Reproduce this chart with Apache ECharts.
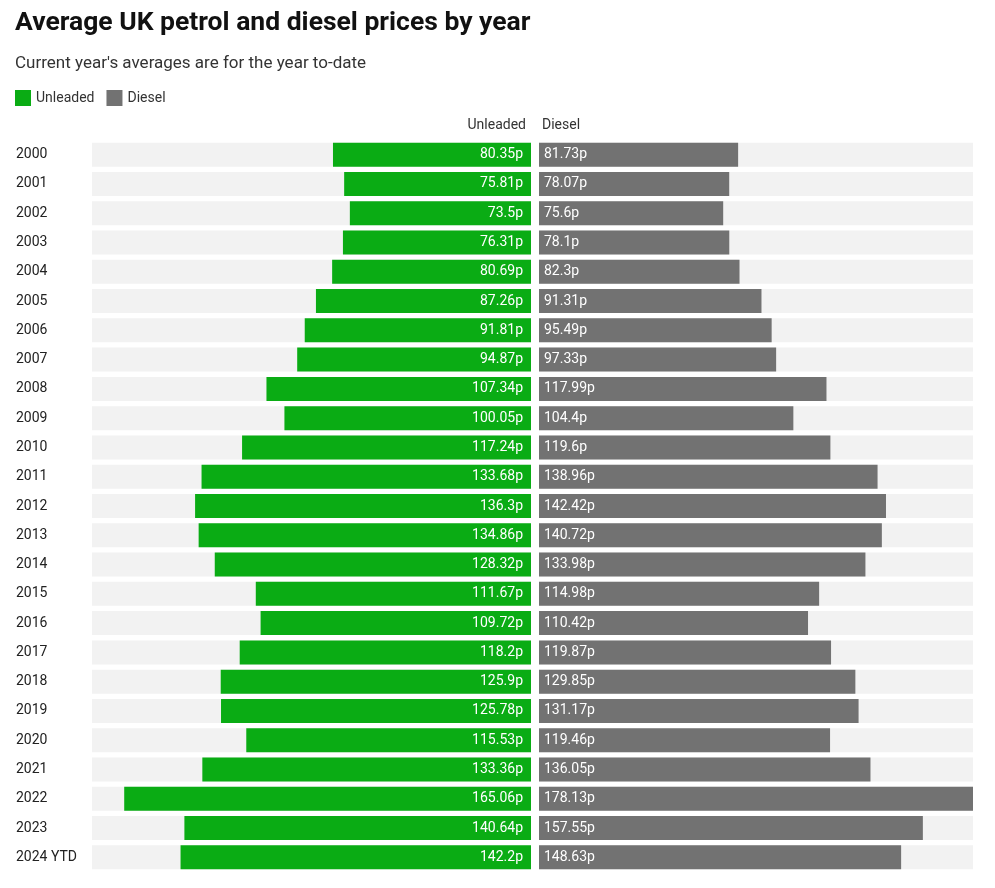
<!DOCTYPE html>
<html>
<head>
<meta charset="utf-8">
<script src="https://cdn.jsdelivr.net/npm/echarts@6/dist/echarts.min.js"></script>
<style>
  html, body { margin: 0; padding: 0; background: #fff; }
  #main { width: 995px; height: 888px; }
</style>
</head>
<body>
<div id="main"></div>
<script>
const years = ['2000', '2001', '2002', '2003', '2004', '2005', '2006', '2007', '2008', '2009',
    '2010', '2011', '2012', '2013', '2014', '2015', '2016', '2017', '2018', '2019',
    '2020', '2021', '2022', '2023', '2024 YTD'];
const unleaded = [80.35, 75.81, 73.5, 76.31, 80.69, 87.26, 91.81, 94.87, 107.34, 100.05,
    117.24, 133.68, 136.3, 134.86, 128.32, 111.67, 109.72, 118.2, 125.9, 125.78,
    115.53, 133.36, 165.06, 140.64, 142.2];
const diesel = [81.73, 78.07, 75.6, 78.1, 82.3, 91.31, 95.49, 97.33, 117.99, 104.4,
    119.6, 138.96, 142.42, 140.72, 133.98, 114.98, 110.42, 119.87, 129.85, 131.17,
    119.46, 136.05, 178.13, 157.55, 148.63];

const green = '#0aac14';
const grey = '#727272';
const font = 'Roboto, sans-serif';
const maxVal = Math.max(...unleaded, ...diesel);

var chart = echarts.init(document.getElementById('main'));

var labelStyle = {
    show: true,
    color: '#fff',
    fontSize: 14,
    fontFamily: font,
    formatter: function (p) { return p.value + 'p'; }
};

var option = {
    animation: false,
    textStyle: { fontFamily: font },
    title: [
        {
            text: 'Average UK petrol and diesel prices by year',
            left: 10, top: 5,
            textStyle: { fontSize: 26.5, fontWeight: 'bold', color: '#111', fontFamily: font }
        },
        {
            text: "Current year's averages are for the year to-date",
            left: 10, top: 50,
            textStyle: { fontSize: 17, fontWeight: 'normal', color: '#333', fontFamily: font }
        }
    ],
    legend: {
        left: 10, top: 85,
        icon: 'rect',
        itemWidth: 16, itemHeight: 16,
        itemGap: 12,
        textStyle: { fontSize: 14, color: '#333', fontFamily: font },
        data: ['Unleaded', 'Diesel']
    },
    graphic: [
        {
            type: 'text', right: 995 - 526, top: 118,
            style: { text: 'Unleaded', fontSize: 14, fill: '#333', fontFamily: font }
        },
        {
            type: 'text', left: 542, top: 118,
            style: { text: 'Diesel', fontSize: 14, fill: '#333', fontFamily: font }
        }
    ],
    grid: [
        { left: 92, width: 439, top: 140, bottom: 16 },
        { left: 539, width: 434, top: 140, bottom: 16 }
    ],
    xAxis: [
        { gridIndex: 0, type: 'value', inverse: true, min: 0, max: maxVal, show: false },
        { gridIndex: 1, type: 'value', min: 0, max: maxVal, show: false }
    ],
    yAxis: [
        {
            gridIndex: 0, type: 'category', data: years, inverse: true,
            axisLine: { show: false }, axisTick: { show: false },
            axisLabel: { align: 'left', margin: 76, fontSize: 14, color: '#222', fontFamily: font }
        },
        {
            gridIndex: 1, type: 'category', data: years, inverse: true,
            axisLine: { show: false }, axisTick: { show: false }, axisLabel: { show: false }
        }
    ],
    series: [
        {
            name: 'Unleaded', type: 'bar', xAxisIndex: 0, yAxisIndex: 0,
            data: unleaded,
            barWidth: '82%',
            itemStyle: { color: green },
            showBackground: true,
            backgroundStyle: { color: '#f2f2f2' },
            label: Object.assign({ position: 'insideRight', distance: 8 }, labelStyle)
        },
        {
            name: 'Diesel', type: 'bar', xAxisIndex: 1, yAxisIndex: 1,
            data: diesel,
            barWidth: '82%',
            itemStyle: { color: grey },
            showBackground: true,
            backgroundStyle: { color: '#f2f2f2' },
            label: Object.assign({ position: 'insideLeft', distance: 5 }, labelStyle)
        }
    ]
};

chart.setOption(option);
</script>
</body>
</html>
